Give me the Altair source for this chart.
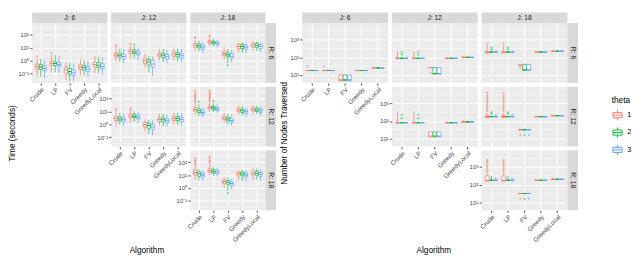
import altair as alt
import pandas as pd

ALGOS = ["Crude", "LP", "FV", "Greedy", "GreedyLocal"]
THETAS = ["1", "2", "3"]
COLORS = ["#F8766D", "#00BA38", "#619CFF"]
# facet cells (R, J) that hold data, in drawing order
CELLS = [(6, 6), (6, 12), (6, 18), (12, 12), (12, 18), (18, 18)]

# ---- Time (seconds): log10 of box statistics, 15 values per cell (algorithm x theta)
TIME_MED = [
    [-0.45, -0.5, -0.6, -0.2, -0.22, -0.3, -0.72, -0.85, -0.95, -0.5, -0.55, -0.65, -0.3, -0.35, -0.45],
    [0.45, 0.42, 0.32, 0.7, 0.68, 0.6, 0.0, -0.1, -0.25, 0.45, 0.42, 0.3, 0.52, 0.48, 0.38],
    [1.2, 1.15, 1.05, 1.45, 1.4, 1.35, 0.55, 0.45, 0.35, 1.1, 1.1, 1.05, 1.2, 1.2, 1.1],
    [0.45, 0.42, 0.35, 0.65, 0.62, 0.55, -0.02, -0.1, -0.2, 0.38, 0.35, 0.28, 0.45, 0.45, 0.38],
    [1.15, 1.05, 0.92, 1.32, 1.28, 1.18, 0.5, 0.42, 0.3, 1.1, 1.05, 0.98, 1.15, 1.12, 1.05],
    [1.2, 1.1, 1.0, 1.35, 1.3, 1.22, 0.5, 0.45, 0.35, 1.1, 1.1, 1.0, 1.15, 1.15, 1.05],
]
TIME_Q1 = [
    [-0.62, -0.68, -0.78, -0.35, -0.38, -0.45, -0.95, -1.05, -1.15, -0.68, -0.72, -0.82, -0.48, -0.52, -0.62],
    [0.3, 0.28, 0.15, 0.55, 0.55, 0.45, -0.2, -0.35, -0.5, 0.3, 0.25, 0.12, 0.35, 0.3, 0.2],
    [1.05, 1.0, 0.9, 1.35, 1.3, 1.25, 0.4, 0.3, 0.2, 0.95, 0.95, 0.9, 1.05, 1.05, 0.95],
    [0.3, 0.28, 0.2, 0.5, 0.5, 0.42, -0.2, -0.3, -0.4, 0.22, 0.2, 0.12, 0.3, 0.3, 0.22],
    [1.02, 0.92, 0.8, 1.2, 1.15, 1.08, 0.38, 0.28, 0.15, 0.98, 0.92, 0.85, 1.02, 1.0, 0.92],
    [1.02, 0.92, 0.85, 1.22, 1.18, 1.1, 0.35, 0.3, 0.2, 0.95, 0.95, 0.85, 1.0, 1.0, 0.9],
]
TIME_Q3 = [
    [-0.28, -0.3, -0.42, -0.05, -0.08, -0.12, -0.5, -0.6, -0.72, -0.32, -0.38, -0.45, -0.12, -0.15, -0.25],
    [0.6, 0.58, 0.48, 0.85, 0.82, 0.75, 0.15, 0.1, 0.0, 0.6, 0.58, 0.48, 0.68, 0.62, 0.55],
    [1.35, 1.3, 1.2, 1.55, 1.5, 1.45, 0.7, 0.6, 0.55, 1.25, 1.25, 1.2, 1.35, 1.35, 1.25],
    [0.6, 0.58, 0.5, 0.8, 0.78, 0.7, 0.15, 0.1, 0.0, 0.52, 0.5, 0.42, 0.6, 0.6, 0.52],
    [1.3, 1.2, 1.05, 1.42, 1.4, 1.3, 0.62, 0.55, 0.45, 1.22, 1.18, 1.1, 1.28, 1.25, 1.18],
    [1.4, 1.25, 1.15, 1.5, 1.42, 1.35, 0.62, 0.58, 0.48, 1.22, 1.25, 1.15, 1.3, 1.3, 1.2],
]
TIME_LO = [
    [-1.2, -1.25, -1.35, -0.85, -0.9, -0.95, -1.5, -1.6, -1.6, -1.1, -1.15, -1.25, -0.95, -1.0, -1.1],
    [-0.05, -0.1, -0.2, 0.15, 0.15, 0.05, -0.55, -0.9, -1.15, 0.0, -0.1, -0.2, 0.05, -0.05, -0.15],
    [0.75, 0.7, 0.6, 1.1, 1.1, 1.05, 0.1, -0.2, -0.1, 0.7, 0.65, 0.6, 0.8, 0.75, 0.7],
    [-0.1, -0.05, -0.15, 0.15, 0.2, 0.1, -0.55, -0.75, -0.85, -0.1, -0.15, -0.2, -0.05, -0.05, -0.1],
    [0.75, 0.65, 0.55, 0.95, 0.95, 0.9, 0.15, 0.0, -0.1, 0.75, 0.7, 0.6, 0.8, 0.78, 0.7],
    [0.65, 0.6, 0.55, 1.0, 0.95, 0.9, 0.0, -0.25, -0.1, 0.6, 0.55, 0.5, 0.6, 0.65, 0.55],
]
TIME_HI = [
    [0.2, 0.15, 0.05, 0.45, 0.45, 0.35, -0.1, -0.15, -0.2, 0.1, 0.05, 0.0, 0.35, 0.3, 0.25],
    [1.0, 0.95, 0.9, 1.15, 1.1, 1.05, 0.5, 0.4, 0.35, 0.9, 0.9, 0.85, 1.0, 0.95, 0.9],
    [1.6, 1.55, 1.45, 1.75, 1.7, 1.6, 1.0, 0.9, 0.85, 1.4, 1.4, 1.35, 1.5, 1.5, 1.4],
    [0.95, 0.9, 0.85, 1.05, 1.0, 0.95, 0.4, 0.35, 0.3, 0.8, 0.8, 0.75, 0.9, 0.9, 0.85],
    [1.6, 1.55, 1.3, 1.7, 1.65, 1.55, 0.9, 0.8, 0.75, 1.45, 1.4, 1.35, 1.5, 1.45, 1.4],
    [1.75, 1.45, 1.35, 1.85, 1.6, 1.55, 0.8, 0.8, 0.7, 1.4, 1.4, 1.35, 1.55, 1.5, 1.45],
]
# outliers: (cell, algorithm index, theta index, log10 value)
TIME_OUT = [
    (0, 0, 0, 0.35), (0, 1, 0, 0.6),
    (1, 0, 0, 1.1), (1, 0, 0, 1.2), (1, 1, 0, 1.3), (1, 1, 1, 1.25),
    (2, 0, 0, 1.75), (2, 0, 0, 1.85), (2, 1, 0, 1.85), (2, 1, 0, 1.95), (2, 2, 1, -0.35),
    (3, 0, 0, 1.05), (3, 0, 0, 1.2), (3, 1, 0, 1.15), (3, 1, 0, 1.25),
    (4, 0, 0, 1.7), (4, 0, 0, 1.8), (4, 0, 0, 1.9), (4, 0, 0, 2.0), (4, 0, 0, 2.1),
    (4, 0, 0, 2.2), (4, 0, 0, 2.3), (4, 0, 0, 2.45), (4, 0, 0, 2.6), (4, 0, 1, 1.75),
    (4, 1, 0, 1.8), (4, 1, 0, 1.9), (4, 1, 0, 2.0), (4, 1, 0, 2.1), (4, 1, 0, 2.2),
    (4, 1, 0, 2.3), (4, 1, 0, 2.4), (4, 1, 0, 2.5), (4, 1, 0, 2.62), (4, 1, 1, 1.8),
    (5, 0, 0, 1.85), (5, 0, 0, 1.95), (5, 0, 0, 2.05), (5, 0, 0, 2.15), (5, 0, 0, 2.3),
    (5, 1, 0, 1.95), (5, 1, 0, 2.05), (5, 1, 0, 2.15), (5, 1, 0, 2.3), (5, 1, 0, 2.45),
    (5, 2, 1, -0.4),
]

# ---- Number of nodes traversed: log10 of box statistics
NODES_MED = [
    [1.25, 1.25, 1.25, 1.25, 1.25, 1.25, 0.72, 0.72, 0.72, 1.25, 1.25, 1.25, 1.4, 1.4, 1.4],
    [1.95, 1.95, 1.95, 1.95, 1.95, 1.95, 1.42, 1.08, 1.08, 1.95, 1.95, 1.95, 2.0, 2.0, 2.0],
    [2.3, 2.3, 2.3, 2.3, 2.3, 2.3, 1.55, 1.3, 1.3, 2.3, 2.3, 2.3, 2.35, 2.35, 2.35],
    [1.9, 1.9, 1.9, 1.9, 1.9, 1.9, 1.15, 1.15, 1.15, 1.9, 1.9, 1.9, 1.95, 1.95, 1.95],
    [2.25, 2.25, 2.25, 2.25, 2.25, 2.25, 1.5, 1.5, 1.5, 2.25, 2.25, 2.25, 2.3, 2.3, 2.3],
    [2.25, 2.25, 2.25, 2.25, 2.25, 2.25, 1.5, 1.5, 1.5, 2.25, 2.25, 2.25, 2.3, 2.3, 2.3],
]
NODES_Q1 = [
    [1.25, 1.25, 1.25, 1.25, 1.25, 1.25, 0.67, 0.67, 0.67, 1.25, 1.25, 1.25, 1.4, 1.4, 1.4],
    [1.95, 1.95, 1.95, 1.95, 1.95, 1.95, 1.42, 1.05, 1.05, 1.95, 1.95, 1.95, 2.0, 2.0, 2.0],
    [2.25, 2.3, 2.3, 2.25, 2.3, 2.3, 1.55, 1.25, 1.25, 2.3, 2.3, 2.3, 2.35, 2.35, 2.35],
    [1.9, 1.9, 1.9, 1.9, 1.9, 1.9, 1.1, 1.1, 1.1, 1.9, 1.9, 1.9, 1.95, 1.95, 1.95],
    [2.2, 2.25, 2.25, 2.2, 2.25, 2.25, 1.5, 1.5, 1.5, 2.25, 2.25, 2.25, 2.3, 2.3, 2.3],
    [2.2, 2.25, 2.25, 2.2, 2.25, 2.25, 1.5, 1.5, 1.5, 2.25, 2.25, 2.25, 2.3, 2.3, 2.3],
]
NODES_Q3 = [
    [1.25, 1.25, 1.25, 1.25, 1.25, 1.25, 1.0, 1.0, 1.0, 1.25, 1.25, 1.25, 1.4, 1.4, 1.4],
    [1.95, 1.95, 1.95, 1.95, 1.95, 1.95, 1.42, 1.42, 1.42, 1.95, 1.95, 1.95, 2.0, 2.0, 2.0],
    [2.32, 2.3, 2.3, 2.32, 2.3, 2.3, 1.55, 1.6, 1.6, 2.3, 2.3, 2.3, 2.35, 2.35, 2.35],
    [1.9, 1.9, 1.9, 1.9, 1.9, 1.9, 1.38, 1.38, 1.38, 1.9, 1.9, 1.9, 1.95, 1.95, 1.95],
    [2.32, 2.25, 2.25, 2.32, 2.25, 2.25, 1.5, 1.5, 1.5, 2.25, 2.25, 2.25, 2.3, 2.3, 2.3],
    [2.5, 2.25, 2.25, 2.5, 2.25, 2.25, 1.5, 1.5, 1.5, 2.25, 2.25, 2.25, 2.3, 2.3, 2.3],
]
NODES_LO = [
    [1.25, 1.25, 1.25, 1.25, 1.25, 1.25, 0.67, 0.67, 0.67, 1.25, 1.25, 1.25, 1.4, 1.4, 1.4],
    [1.95, 1.95, 1.95, 1.95, 1.95, 1.95, 1.42, 1.05, 1.05, 1.95, 1.95, 1.95, 2.0, 2.0, 2.0],
    [2.22, 2.3, 2.3, 2.22, 2.3, 2.3, 1.55, 1.25, 1.25, 2.3, 2.3, 2.3, 2.35, 2.35, 2.35],
    [1.9, 1.9, 1.9, 1.9, 1.9, 1.9, 1.1, 1.1, 1.1, 1.9, 1.9, 1.9, 1.95, 1.95, 1.95],
    [2.2, 2.25, 2.25, 2.2, 2.25, 2.25, 1.5, 1.5, 1.5, 2.25, 2.25, 2.25, 2.3, 2.3, 2.3],
    [2.2, 2.25, 2.25, 2.2, 2.25, 2.25, 1.5, 1.5, 1.5, 2.25, 2.25, 2.25, 2.3, 2.3, 2.3],
]
NODES_HI = [
    [1.25, 1.25, 1.25, 1.25, 1.25, 1.25, 1.0, 1.0, 1.0, 1.25, 1.25, 1.25, 1.45, 1.42, 1.42],
    [2.35, 1.95, 1.98, 2.35, 1.95, 1.98, 1.42, 1.42, 1.42, 1.95, 1.95, 1.95, 2.05, 2.05, 2.03],
    [2.82, 2.35, 2.38, 2.85, 2.35, 2.38, 1.55, 1.6, 1.6, 2.3, 2.3, 2.3, 2.42, 2.42, 2.4],
    [2.55, 1.9, 1.9, 2.55, 1.9, 1.9, 1.38, 1.38, 1.38, 1.9, 1.9, 1.9, 2.05, 1.97, 1.97],
    [2.45, 2.3, 2.25, 2.45, 2.3, 2.25, 1.5, 1.5, 1.5, 2.25, 2.25, 2.25, 2.35, 2.35, 2.33],
    [2.6, 2.5, 2.25, 2.6, 2.5, 2.25, 1.5, 1.5, 1.5, 2.25, 2.25, 2.25, 2.4, 2.38, 2.35],
]
NODES_OUT = [
    (0, 0, 0, 1.5), (0, 1, 0, 1.5),
    (1, 0, 1, 2.15), (1, 0, 1, 2.3), (1, 1, 1, 2.15), (1, 1, 1, 2.3), (1, 2, 0, 1.12),
    (2, 0, 1, 2.45), (2, 0, 1, 2.55), (2, 1, 1, 2.45), (2, 1, 1, 2.55), (2, 2, 0, 1.4),
    (3, 0, 1, 2.15), (3, 0, 1, 2.35), (3, 1, 1, 2.15), (3, 1, 1, 2.35),
    (4, 0, 0, 2.55), (4, 0, 0, 2.65), (4, 0, 0, 2.75), (4, 0, 0, 2.85), (4, 0, 0, 2.95),
    (4, 0, 0, 3.05), (4, 0, 0, 3.15), (4, 0, 0, 3.25), (4, 0, 0, 3.35), (4, 0, 0, 3.45),
    (4, 0, 0, 3.6),
    (4, 1, 0, 2.55), (4, 1, 0, 2.65), (4, 1, 0, 2.75), (4, 1, 0, 2.85), (4, 1, 0, 2.95),
    (4, 1, 0, 3.05), (4, 1, 0, 3.15), (4, 1, 0, 3.25), (4, 1, 0, 3.35), (4, 1, 0, 3.45),
    (4, 1, 0, 3.6),
    (4, 0, 1, 2.42), (4, 0, 1, 2.5), (4, 1, 1, 2.42), (4, 1, 1, 2.5),
    (4, 0, 2, 2.35), (4, 1, 2, 2.35), (4, 2, 0, 1.2), (4, 2, 1, 1.2), (4, 2, 2, 1.2),
    (5, 0, 0, 2.7), (5, 0, 0, 2.8), (5, 0, 0, 2.9), (5, 0, 0, 3.0), (5, 0, 0, 3.1),
    (5, 0, 0, 3.2), (5, 0, 0, 3.3), (5, 0, 0, 3.4),
    (5, 1, 0, 2.7), (5, 1, 0, 2.8), (5, 1, 0, 2.9), (5, 1, 0, 3.0), (5, 1, 0, 3.1),
    (5, 1, 0, 3.2), (5, 1, 0, 3.3), (5, 1, 0, 3.4),
    (5, 0, 2, 2.35), (5, 1, 2, 2.35), (5, 2, 0, 1.2), (5, 2, 1, 1.2), (5, 2, 2, 1.2),
]

TIME_TICKS = [0.1, 1, 10, 100]
TIME_MINOR = [10 ** -1.5, 10 ** -0.5, 10 ** 0.5, 10 ** 1.5, 10 ** 2.5]
TIME_DOMAIN = [10 ** -1.72, 10 ** 2.92]
NODES_TICKS = [10, 100, 1000]
NODES_MINOR = [10 ** 1.5, 10 ** 2.5, 10 ** 3.5]
NODES_DOMAIN = [10 ** 0.55, 10 ** 3.95]

LABEL_EXPR = ("datum.value < 0.5 ? '10⁻¹' : datum.value < 5 ? '10⁰' : "
              "datum.value < 50 ? '10¹' : datum.value < 500 ? '10²' : '10³'")

H = 62
SH = 11
SW = 11
FONT = "Liberation Sans"

LEGEND = alt.Legend(
    title="theta", orient="none", legendX=601, legendY=76,
    symbolType="M-0.9,-0.5H0.9V0.5H-0.9Z M-0.9,0H0.9 M0,-0.5V-1 M0,0.5V1",
    symbolFillColor="white", symbolSize=110, symbolStrokeWidth=1,
    labelFontSize=7.5, titleFontSize=8.5, titleFontWeight="normal",
    titleColor="black", labelColor="black", rowPadding=2,
)


def box_table(med, q1, q3, lo, hi):
    rows = []
    for c in range(len(CELLS)):
        for ai, a in enumerate(ALGOS):
            for ti, t in enumerate(THETAS):
                k = ai * 3 + ti
                rows.append({"cell": c, "algo": a, "theta": t,
                             "med": 10 ** med[c][k], "q1": 10 ** q1[c][k],
                             "q3": 10 ** q3[c][k], "lo": 10 ** lo[c][k],
                             "hi": 10 ** hi[c][k]})
    return pd.DataFrame(rows)


def out_table(outs):
    return pd.DataFrame([{"cell": c, "algo": ALGOS[a], "theta": THETAS[t], "v": 10 ** v}
                         for c, a, t, v in outs])


def panel(box, out, c, width, domain, ticks, minor, show_y, show_x, top=None, right=None):
    ysc = alt.Scale(type="log", domain=domain, nice=False)
    yax = alt.Axis(values=ticks, labelExpr=LABEL_EXPR, title=None, grid=True,
                   ticks=show_y, labels=show_y, domain=False)
    xax = alt.Axis(title=None, grid=True, ticks=show_x, labels=show_x, labelAngle=315,
                   labelAlign="right", labelBaseline="top", domain=False, bandPosition=0.5,
                   labelPadding=1)
    X = alt.X("algo:N", sort=ALGOS, axis=xax,
              scale=alt.Scale(domain=ALGOS, paddingInner=0, paddingOuter=0.1))
    XO = alt.XOffset("theta:N", scale=alt.Scale(domain=THETAS, paddingInner=0.1, paddingOuter=0.48))
    S = alt.Stroke("theta:N", scale=alt.Scale(domain=THETAS, range=COLORS), legend=LEGEND)
    b = box[box.cell == c]
    o = out[out.cell == c]
    layers = [
        alt.Chart(pd.DataFrame({"v": minor})).mark_rule(color="white", strokeWidth=0.5, clip=True)
        .encode(y=alt.Y("v:Q", scale=ysc, axis=yax)),
        alt.Chart(b).mark_rule(strokeWidth=0.7)
        .encode(x=X, xOffset=XO, y=alt.Y("lo:Q", scale=ysc, axis=yax), y2="hi:Q", stroke=S),
        alt.Chart(b).mark_bar(fill="white", strokeWidth=0.7)
        .encode(x=X, xOffset=XO, y=alt.Y("q1:Q", scale=ysc, axis=yax), y2="q3:Q", stroke=S),
        alt.Chart(b).mark_bar(fill="white", strokeWidth=1.1)
        .encode(x=X, xOffset=XO, y=alt.Y("med:Q", scale=ysc, axis=yax), y2="med:Q", stroke=S),
        alt.Chart(o).mark_point(shape="circle", filled=False, size=1.5, strokeWidth=1)
        .encode(x=X, xOffset=XO, y=alt.Y("v:Q", scale=ysc, axis=yax), stroke=S),
    ]
    if top:
        sd = pd.DataFrame({"s": [top]})
        layers.append(alt.Chart(sd).mark_rect(fill="#D9D9D9").encode(
            x=alt.value(0), x2=alt.value(width), y=alt.value(-SH), y2=alt.value(0)))
        layers.append(alt.Chart(sd).mark_text(fontSize=7, color="#1A1A1A", baseline="middle").encode(
            x=alt.value(width / 2), y=alt.value(-SH / 2), text="s:N"))
    if right:
        sd = pd.DataFrame({"s": [right]})
        layers.append(alt.Chart(sd).mark_rect(fill="#D9D9D9").encode(
            x=alt.value(width), x2=alt.value(width + SW), y=alt.value(0), y2=alt.value(H)))
        layers.append(alt.Chart(sd).mark_text(fontSize=7, color="#1A1A1A", baseline="middle",
                                              angle=90).encode(
            x=alt.value(width + SW / 2), y=alt.value(H / 2), text="s:N"))
    return alt.layer(*layers).properties(
        width=width, height=H, view=alt.ViewBackground(fill="#EBEBEB", strokeWidth=0))


def empty(width):
    return alt.Chart(pd.DataFrame({"s": [""]})).mark_text().encode(
        text="s:N", x=alt.value(0), y=alt.value(0)).properties(
        width=width, height=H, view=alt.ViewBackground(fill="transparent", strokeWidth=0))


def grid_chart(box, out, width, domain, ticks, minor, ytitle):
    p = lambda c, sy, sx, top=None, right=None: panel(box, out, c, width, domain, ticks, minor,
                                                      sy, sx, top, right)
    cells = [
        p(0, True, True, top="J: 6"), p(1, False, False, top="J: 12"),
        p(2, False, False, top="J: 18", right="R: 6"),
        empty(width), p(3, True, True), p(4, False, False, right="R: 12"),
        empty(width), empty(width), p(5, True, True, right="R: 18"),
    ]
    g = alt.concat(*cells, columns=3, spacing=4, bounds="flush").resolve_scale(
        x="independent", y="independent", xOffset="independent", stroke="shared")
    inner = alt.hconcat(g, title=alt.TitleParams("Algorithm", orient="bottom", anchor="middle",
                                                  offset=3)).resolve_scale(
        x="independent", y="independent", xOffset="independent", stroke="shared")
    return alt.vconcat(inner, title=alt.TitleParams(ytitle, orient="left", anchor="middle",
                                                     offset=1)).resolve_scale(
        x="independent", y="independent", xOffset="independent", stroke="shared")


time_box = box_table(TIME_MED, TIME_Q1, TIME_Q3, TIME_LO, TIME_HI)
time_out = out_table(TIME_OUT)
nodes_box = box_table(NODES_MED, NODES_Q1, NODES_Q3, NODES_LO, NODES_HI)
nodes_out = out_table(NODES_OUT)

left = grid_chart(time_box, time_out, 78, TIME_DOMAIN, TIME_TICKS, TIME_MINOR, "Time (seconds)")
right = grid_chart(nodes_box, nodes_out, 89, NODES_DOMAIN, NODES_TICKS, NODES_MINOR,
                   "Number of Nodes Traversed")

chart = alt.hconcat(left, right, spacing=4).resolve_scale(
    x="independent", y="independent", xOffset="independent", stroke="shared"
).properties(padding=0).configure(font=FONT).configure_view(strokeWidth=0).configure_axis(
    tickColor="#333333", tickSize=2.5, tickWidth=0.8, labelColor="#4D4D4D", labelFontSize=6.5,
    labelFont=FONT, gridColor="white", gridWidth=1, labelPadding=1,
).configure_title(font=FONT, fontSize=8.5, fontWeight="normal", color="black")

chart.save("out.html", embed_options={"renderer": "svg", "actions": False})
